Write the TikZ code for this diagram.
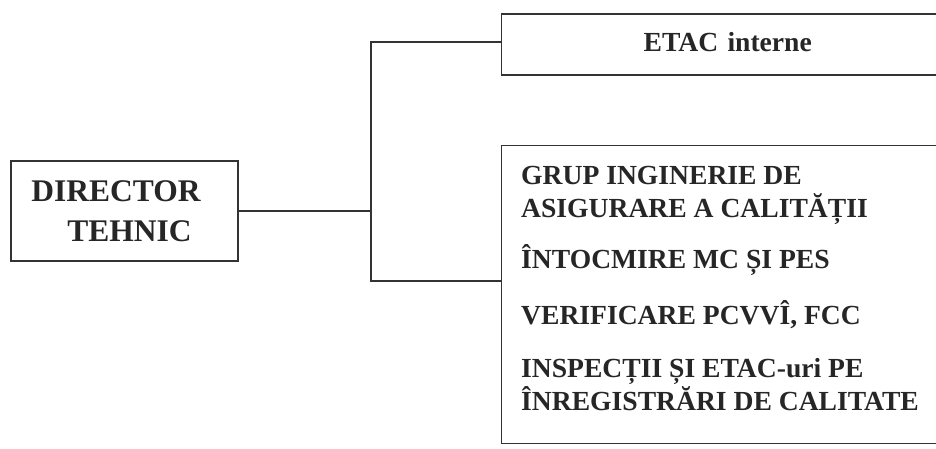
\documentclass[tikz,border=0pt]{standalone}
\usepackage{fontspec}
\setmainfont{Liberation Serif}
\usetikzlibrary{calc}
\tikzset{
  orgbox/.style={draw=black!80, line width=1.4pt, rectangle, inner sep=0pt},
  orgline/.style={draw=black!80, line width=1.3pt},
  orgtext/.style={text=black!85, font=\bfseries\fontsize{27.6}{33}\selectfont, inner sep=0pt, align=left, anchor=north west}
}
\begin{document}
\begin{tikzpicture}[x=1pt,y=-1pt]
  %%%%% FRAME %%%%%
  \clip (0,0) rectangle (936,449);
  \fill[white] (0,0) rectangle (936,449);

  %%%%% BOXES %%%%%
  \node[orgbox, minimum width=227, minimum height=100, align=center, text=black!85,
        font=\bfseries\fontsize{31.5}{40}\selectfont] (dir) at (124.5,211)
    {DIRECTOR\hspace*{17pt}\\\hspace*{10pt}TEHNIC};

  \node[orgbox, anchor=west, minimum height=61, text width=300, inner xsep=142, text depth=6pt, align=left, text=black!85,
        font=\bfseries\fontsize{27.6}{33}\selectfont] (etac) at (501,44.5) {ETAC interne};

  \node[orgbox, anchor=north west, minimum width=520, minimum height=298] (qabox) at (501,145) {};
  \node[orgtext] (qatext) at ([xshift=20pt, yshift=-21.4pt]qabox.north west)
    {GRUP INGINERIE DE\\ASIGURARE A CALITĂȚII\\[18pt]ÎNTOCMIRE MC ȘI PES\\[23pt]VERIFICARE PCVVÎ, FCC\\[20pt]INSPECȚII ȘI ETAC-uri PE\\ÎNREGISTRĂRI DE CALITATE};

  %%%%% CONNECTORS %%%%%
  \coordinate (spinetop) at (371,42);
  \coordinate (spinebot) at (371,281);
  \draw[orgline] (dir.east) -- (dir.east -| spinetop);
  \draw[orgline] (spinetop -| etac.west) -- (spinetop) -- (spinebot) -- (spinebot -| qabox.west);
\end{tikzpicture}
\end{document}
